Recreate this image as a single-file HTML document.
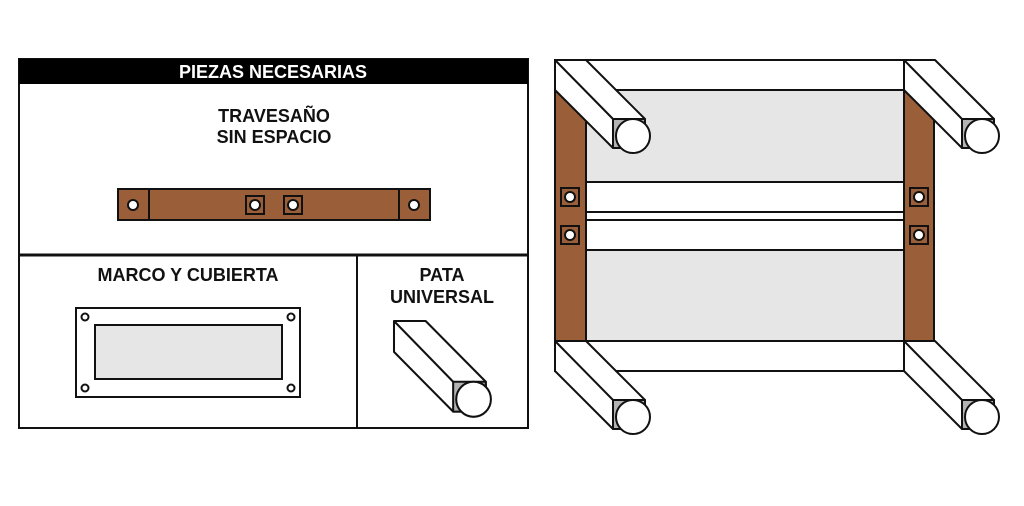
<!DOCTYPE html>
<html><head><meta charset="utf-8"><style>
html,body{margin:0;padding:0;background:#fff}
svg{display:block}
text{font-family:"Liberation Sans",sans-serif;font-weight:bold;font-size:18px;fill:#111;text-anchor:middle}
</style></head><body>
<svg width="1024" height="506" viewBox="0 0 1024 506" xmlns="http://www.w3.org/2000/svg">
<defs>
<g id="leg" stroke="#111" stroke-width="2" stroke-linejoin="round">
<polygon points="0,0 31,0 90,59 90,88 58,88 0,30" fill="#fff"/>
<line x1="0" y1="0" x2="58" y2="59"/>
<rect x="58" y="59" width="32" height="29" fill="#b3b3b3"/>
<circle cx="78" cy="76" r="17" fill="#fff"/>
</g>
<g id="sq"><rect x="-9" y="-9" width="18" height="18" fill="none" stroke="#111" stroke-width="2"/><circle r="5" fill="#fff" stroke="#111" stroke-width="2"/></g>
</defs>
<rect x="19" y="59" width="509" height="369" fill="#fff" stroke="#111" stroke-width="2"/>
<rect x="19" y="59" width="509" height="25" fill="#000"/>
<text x="273" y="78" style="fill:#fff">PIEZAS NECESARIAS</text>
<line x1="19" y1="255" x2="528" y2="255" stroke="#111" stroke-width="3"/>
<line x1="357" y1="255" x2="357" y2="428" stroke="#111" stroke-width="2"/>
<text x="274" y="122">TRAVESAÑO</text>
<text x="274" y="143">SIN ESPACIO</text>
<rect x="118" y="189" width="312" height="31" fill="#9a5f38" stroke="#111" stroke-width="2"/>
<line x1="149" y1="189" x2="149" y2="220" stroke="#111" stroke-width="2"/>
<line x1="399" y1="189" x2="399" y2="220" stroke="#111" stroke-width="2"/>
<circle cx="133" cy="205" r="5" fill="#fff" stroke="#111" stroke-width="2"/>
<circle cx="414" cy="205" r="5" fill="#fff" stroke="#111" stroke-width="2"/>
<use href="#sq" x="255" y="205"/><use href="#sq" x="293" y="205"/>
<text x="188" y="281">MARCO Y CUBIERTA</text>
<rect x="76" y="308" width="224" height="89" fill="#fff" stroke="#111" stroke-width="2"/>
<rect x="95" y="325" width="187" height="54" fill="#e6e6e6" stroke="#111" stroke-width="2"/>
<g fill="#fff" stroke="#111" stroke-width="2"><circle cx="85" cy="317" r="3.5"/><circle cx="291" cy="317" r="3.5"/><circle cx="85" cy="388" r="3.5"/><circle cx="291" cy="388" r="3.5"/></g>
<text x="442" y="281">PATA</text>
<text x="442" y="303">UNIVERSAL</text>
<use href="#leg" transform="translate(394,321) scale(1.02,1.03)"/>
<rect x="555" y="60" width="349" height="311" fill="#fff" stroke="#111" stroke-width="2"/>
<rect x="586" y="90" width="318" height="251" fill="#e6e6e6" stroke="#111" stroke-width="2"/>
<rect x="586" y="182" width="318" height="30" fill="#fff" stroke="#111" stroke-width="2"/>
<rect x="586" y="212" width="318" height="8" fill="#fff" stroke="#111" stroke-width="2"/>
<rect x="586" y="220" width="318" height="30" fill="#fff" stroke="#111" stroke-width="2"/>
<rect x="555" y="90" width="31" height="251" fill="#9a5f38" stroke="#111" stroke-width="2"/>
<rect x="904" y="90" width="30" height="251" fill="#9a5f38" stroke="#111" stroke-width="2"/>
<use href="#sq" x="570" y="197"/><use href="#sq" x="570" y="235"/>
<use href="#sq" x="919" y="197"/><use href="#sq" x="919" y="235"/>
<use href="#leg" x="555" y="60"/>
<use href="#leg" x="904" y="60"/>
<use href="#leg" x="555" y="341"/>
<use href="#leg" x="904" y="341"/>
</svg>
</body></html>
